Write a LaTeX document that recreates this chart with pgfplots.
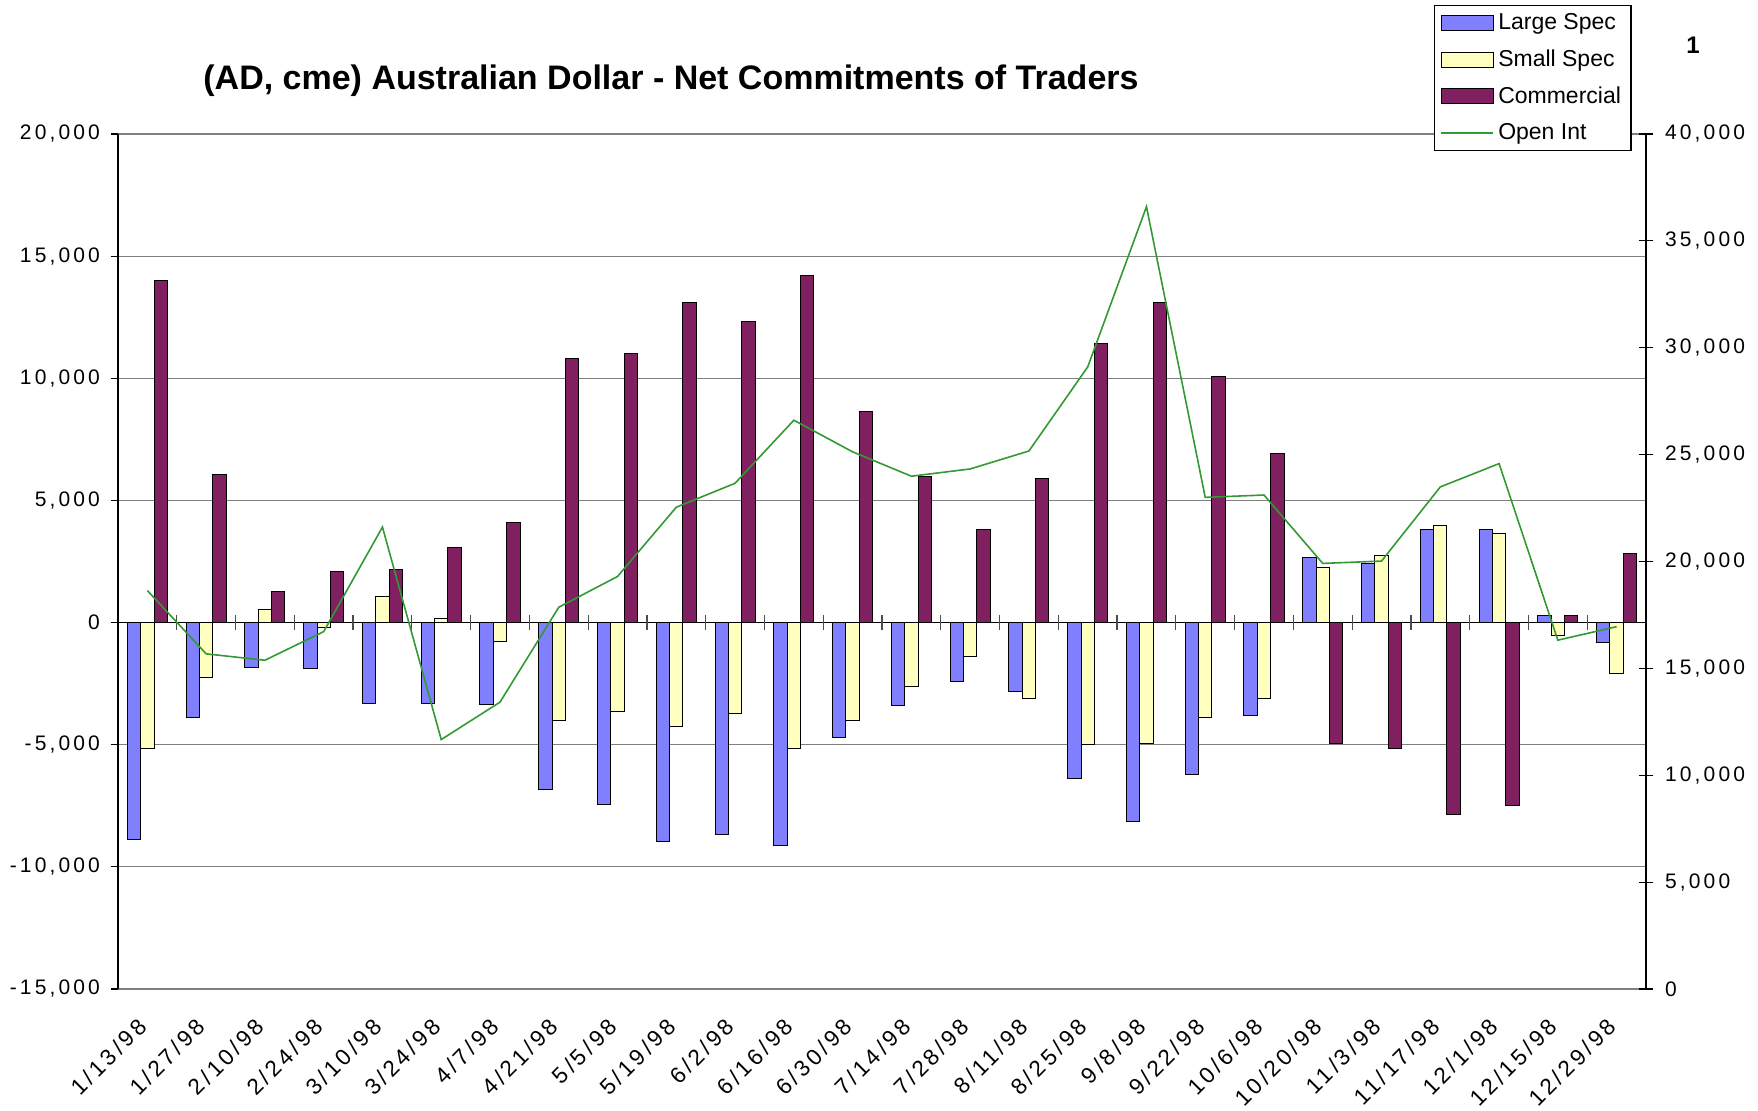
\documentclass[border=0pt]{standalone}
\usepackage{pgfplots}
\pgfplotsset{compat=1.18}
\usepackage{fontspec}
\setmainfont{Liberation Sans}
\newfontfamily\tickfont[LetterSpace=15]{Liberation Sans}
\definecolor{lspec}{RGB}{128,128,255}
\definecolor{sspec}{RGB}{255,255,192}
\definecolor{comm}{RGB}{128,32,96}
\definecolor{oi}{RGB}{51,153,51}
\pgfplotsset{
  barleg/.style={legend image code/.code={\draw[##1] (0pt,-3.75pt) rectangle (26pt,3.75pt);}},
  lineleg/.style={legend image code/.code={\draw[##1] (0pt,0pt) -- (26pt,0pt);}},
  base/.style={scale only axis, width=764pt, height=427.5pt, xmin=-0.5, xmax=25.5,
    scaled y ticks=false,
    /pgf/number format/assume math mode=true, /pgf/number format/1000 sep={,},
    ticklabel style={font=\tickfont\fontsize{10.5}{12}\selectfont}},
}
\begin{document}
\begin{tikzpicture}
\begin{axis}[base, ymin=-15000, ymax=20000, ytick={-15000,-10000,...,20000},
  axis lines*=left, x axis line style={draw=gray, line width=0.6pt},
  y axis line style={black, line width=0.6pt},
  xtick={0,...,25},
  xticklabels={1/13/98,1/27/98,2/10/98,2/24/98,3/10/98,3/24/98,4/7/98,4/21/98,5/5/98,5/19/98,6/2/98,6/16/98,6/30/98,7/14/98,7/28/98,8/11/98,8/25/98,9/8/98,9/22/98,10/6/98,10/20/98,11/3/98,11/17/98,12/1/98,12/15/98,12/29/98},
  xtick style={draw=none},
  xticklabel style={rotate=45, anchor=east, font=\tickfont\fontsize{11.3}{13}\selectfont},
  xticklabel shift=11pt,
  yticklabel style={xshift=-2pt},
  ytick style={black, line width=0.6pt}, tick align=outside, major tick length=3.5pt,
  ymajorgrids, major grid style={gray, line width=0.6pt},
]
\addplot[ybar, bar width=0.227, bar shift=-0.227, fill=lspec, draw=black, line width=0.5pt] coordinates {
(0,-8900) (1,-3900) (2,-1830) (3,-1900) (4,-3300) (5,-3300) (6,-3370) (7,-6830) (8,-7450) (9,-8950)
(10,-8670) (11,-9140) (12,-4720) (13,-3390) (14,-2400) (15,-2840) (16,-6400) (17,-8160) (18,-6220) (19,-3820)
(20,2680) (21,2410) (22,3815) (23,3800) (24,270) (25,-820)};
\addplot[ybar, bar width=0.227, bar shift=0, fill=sspec, draw=black, line width=0.5pt] coordinates {
(0,-5170) (1,-2230) (2,520) (3,-200) (4,1070) (5,180) (6,-790) (7,-4010) (8,-3630) (9,-4260)
(10,-3720) (11,-5140) (12,-3990) (13,-2600) (14,-1390) (15,-3090) (16,-4990) (17,-4950) (18,-3890) (19,-3090)
(20,2250) (21,2740) (22,3990) (23,3660) (24,-545) (25,-2070)};
\addplot[ybar, bar width=0.227, bar shift=0.227, fill=comm, draw=black, line width=0.5pt] coordinates {
(0,14000) (1,6080) (2,1280) (3,2075) (4,2170) (5,3090) (6,4110) (7,10830) (8,11030) (9,13120)
(10,12320) (11,14220) (12,8640) (13,5990) (14,3810) (15,5900) (16,11410) (17,13100) (18,10090) (19,6910)
(20,-4940) (21,-5150) (22,-7850) (23,-7490) (24,285) (25,2830)};
\draw[black, line width=0.6pt] (axis cs:-0.5,0) -- (axis cs:25.5,0);
\pgfplotsinvokeforeach{0.5,1.5,2.5,3.5,4.5,5.5,6.5,7.5,8.5,9.5,10.5,11.5,12.5,13.5,14.5,15.5,16.5,17.5,18.5,19.5,20.5,21.5,22.5,23.5,24.5}{
  \draw[gray!60!black, line width=0.6pt] (axis cs:#1,-290) -- (axis cs:#1,290);
}
\end{axis}
\begin{axis}[base, ymin=0, ymax=40000, ytick={0,5000,...,40000},
  axis y line*=right, axis x line=none,
  y axis line style={black, line width=0.6pt},
  ytick style={black, line width=0.6pt}, tick align=center, major tick length=7pt,
  yticklabel style={anchor=west, xshift=2.5pt},
  barleg,
  legend style={at={(0.8613,1.151)}, anchor=north west, draw=black, line width=0.6pt,
    font=\fontsize{11.5}{13}\selectfont, inner xsep=3pt, inner ysep=2pt, row sep=4.6pt,
    cells={anchor=west}},
  legend cell align=left,
]
\addlegendimage{fill=lspec, draw=black, line width=0.5pt}
\addlegendentry{Large Spec}
\addlegendimage{fill=sspec, draw=black, line width=0.5pt}
\addlegendentry{Small Spec}
\addlegendimage{fill=comm, draw=black, line width=0.5pt}
\addlegendentry{Commercial}
\addplot[oi, line width=0.8pt, mark=none, sharp plot, lineleg] coordinates {
(0,18640) (1,15680) (2,15380) (3,16720) (4,21610) (5,11670) (6,13420) (7,17860) (8,19300) (9,22540)
(10,23660) (11,26610) (12,25130) (13,23990) (14,24330) (15,25170) (16,29100) (17,36600) (18,23000) (19,23110)
(20,19910) (21,20020) (22,23490) (23,24580) (24,16320) (25,16950)};
\addlegendentry{Open Int}
\end{axis}
\node[font=\bfseries\fontsize{17}{20}\selectfont] at (276.5pt,454pt) {(AD, cme) Australian Dollar - Net Commitments of Traders};
\node[font=\bfseries\fontsize{12}{14}\selectfont] at (787.5pt,472pt) {1};
\pgfresetboundingbox
\useasboundingbox (-59pt,-60.5pt) rectangle (820pt,494.5pt);
\end{tikzpicture}
\end{document}
